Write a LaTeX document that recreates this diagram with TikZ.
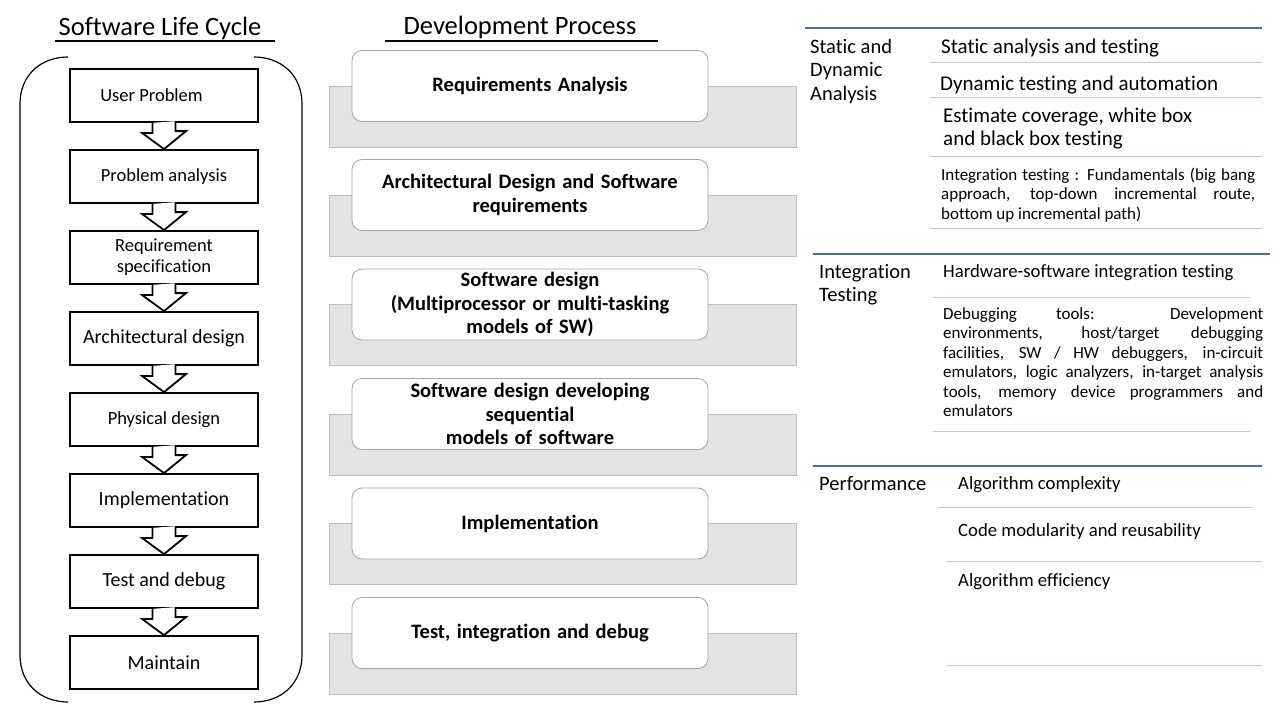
\documentclass[tikz,border=0pt]{standalone}
\usepackage{fontspec}
\setmainfont{Carlito}[Ligatures=NoCommon]
\usetikzlibrary{calc}
\definecolor{grayfill}{HTML}{E3E3E3}
\definecolor{grayedge}{HTML}{BFBFBF}
\definecolor{boxedge}{HTML}{A6A6A6}
\definecolor{blueline}{HTML}{4F6D93}
\definecolor{lightline}{HTML}{C3CAD8}
\newcommand\mydevfont{\bfseries\fontsize{20.5}{23.5}\selectfont\spaceskip=6.5pt plus 2pt\relax}
\newcommand\myparafont{\fontsize{17}{19.5}\selectfont\hyphenpenalty=10000\relax\exhyphenpenalty=10000\relax}
\tikzset{
  lcbox/.style={draw=black, line width=1.8pt, minimum width=188pt, minimum height=53pt,
    inner sep=0pt, align=center, fill=white, font=\fontsize{18.5}{21}\selectfont},
  lcbig/.style={lcbox, font=\fontsize{20}{22}\selectfont},
  flowarrow/.style={draw=black, line width=1.8pt, fill=white, line join=miter},
  bracket/.style={draw=black, line width=1.2pt},
  title/.style={inner sep=0pt, font=\fontsize{26.5}{30}\selectfont},
  tline/.style={draw=black, line width=1.2pt},
  grayrect/.style={draw=grayedge, fill=grayfill, line width=0.8pt},
  devbox/.style={draw=boxedge, fill=white, line width=0.8pt, rounded corners=10pt,
    minimum width=356pt, minimum height=71pt, inner sep=0pt, align=center,
    font=\mydevfont},
  rlabel/.style={anchor=west, inner sep=0pt, align=left, font=\fontsize{20.5}{23.5}\selectfont},
  ritem/.style={anchor=west, inner sep=0pt, align=left, font=\fontsize{21}{23}\selectfont},
  ritems/.style={anchor=west, inner sep=0pt, align=left, font=\fontsize{18.7}{21}\selectfont},
  rpara/.style={anchor=west, inner sep=0pt, align=justify, font=\myparafont},
  blue/.style={draw=blueline, line width=1.1pt},
  light/.style={draw=lightline, line width=1pt},
}
\begin{document}
\begin{tikzpicture}[x=1pt,y=-1pt]
\useasboundingbox (0,0) rectangle (1280,720);
\fill[white] (0,0) rectangle (1280,720);

% ---------- Software Life Cycle ----------
\node[title] (t1) at (160,28) {Software Life Cycle};
\draw[tline] (55,41) -- (275,41);

\draw[bracket] (68,57) .. controls (42,57) and (20,74) .. (20,104) -- (20,655)
  .. controls (20,685) and (42,702) .. (68,702);
\draw[bracket] (254,57) .. controls (280,57) and (302,74) .. (302,104) -- (302,655)
  .. controls (302,685) and (280,702) .. (254,702);

\node[lcbox] (l1) at (164,95.5) {\hspace*{-25pt}User Problem};
\node[lcbox] (l2) at (164,176.5) {Problem analysis};
\node[lcbox] (l3) at (164,257.5) {Requirement\\specification};
\node[lcbig] (l4) at (164,338.5) {Architectural design};
\node[lcbox] (l5) at (164,419.5) {Physical design};
\node[lcbig] (l6) at (164,500.5) {Implementation};
\node[lcbig] (l7) at (164,581.5) {Test and debug};
\node[lcbig] (l8) at (164,662.5) {Maintain};

\foreach \a/\b in {l1/l2,l2/l3,l3/l4,l4/l5,l5/l6,l6/l7,l7/l8}{
  \draw[flowarrow] ([xshift=-11.5pt]\a.south) -- ++(0,10) -- ++(-10.5,0) -- (\b.north)
    -- ++(22,-18) -- ++(-10.5,0) -- ++(0,-10);
}

% ---------- Development Process ----------
\node[title] (t2) at (520,27) {Development Process};
\draw[tline] (385,41) -- (658,41);

\foreach \y in {86,195,304.5,414,523.5,633}{
  \draw[grayrect] (329,\y) rectangle (796,\y+61);
}
\node[devbox] (d1) at (530,86) {Requirements Analysis};
\node[devbox] (d2) at (530,195) {Architectural Design and Software\\requirements};
\node[devbox] (d3) at (530,304.5) {Software design\\(Multiprocessor or multi-tasking\\models of SW)};
\node[devbox] (d4) at (530,414) {Software design developing\\sequential\\models of software};
\node[devbox] (d5) at (530,523.5) {Implementation};
\node[devbox] (d6) at (530,633) {Test, integration and debug};

% ---------- Right column: block 1 ----------
\draw[blue] (805,28) -- (1262,28);
\node[rlabel] (r1) at (810,71.5) {Static and\\Dynamic\\Analysis};
\node[ritem] (a1) at (941,48) {Static analysis and testing};
\draw[light] (930,62) -- (1262,62);
\node[ritem] (a2) at (940,85) {Dynamic testing and automation};
\draw[light] (930,97) -- (1262,97);
\node[ritem] (a3) at (943,128.5) {Estimate coverage, white box\\and black box testing};
\draw[light] (930,156) -- (1262,156);
\node[rpara, text width=314pt] (a4) at (941,195) {Integration testing : Fundamentals (big bang\linebreak approach, top-down incremental route,\linebreak bottom up incremental path)};
\draw[light] (930,228) -- (1262,228);

% ---------- block 2 ----------
\draw[blue] (813,254) -- (1270,254);
\node[rlabel] (r2) at (819,284.5) {Integration\\Testing};
\node[ritems] (b1) at (943,273) {Hardware-software integration testing};
\draw[light] (933,297) -- (1250,297);
\node[rpara, text width=320pt] (b2) at (943,362) {Debugging tools: Development\linebreak environments, host/target debugging\linebreak facilities, SW / HW debuggers, in-circuit\linebreak emulators, logic analyzers, in-target analysis\linebreak tools, memory device programmers and\linebreak emulators};
\draw[light] (933,431) -- (1250,431);

% ---------- block 3 ----------
\draw[blue] (813,466) -- (1262,466);
\node[rlabel] (r3) at (819,484) {Performance};
\node[ritems] (c1) at (958,485) {Algorithm complexity};
\draw[light] (938,507) -- (1252,507);
\node[ritems] (c2) at (958,532) {Code modularity and reusability};
\draw[light] (947,561) -- (1262,561);
\node[ritems] (c3) at (958,582) {Algorithm efficiency};
\draw[light] (947,665) -- (1262,665);
\end{tikzpicture}
\end{document}
